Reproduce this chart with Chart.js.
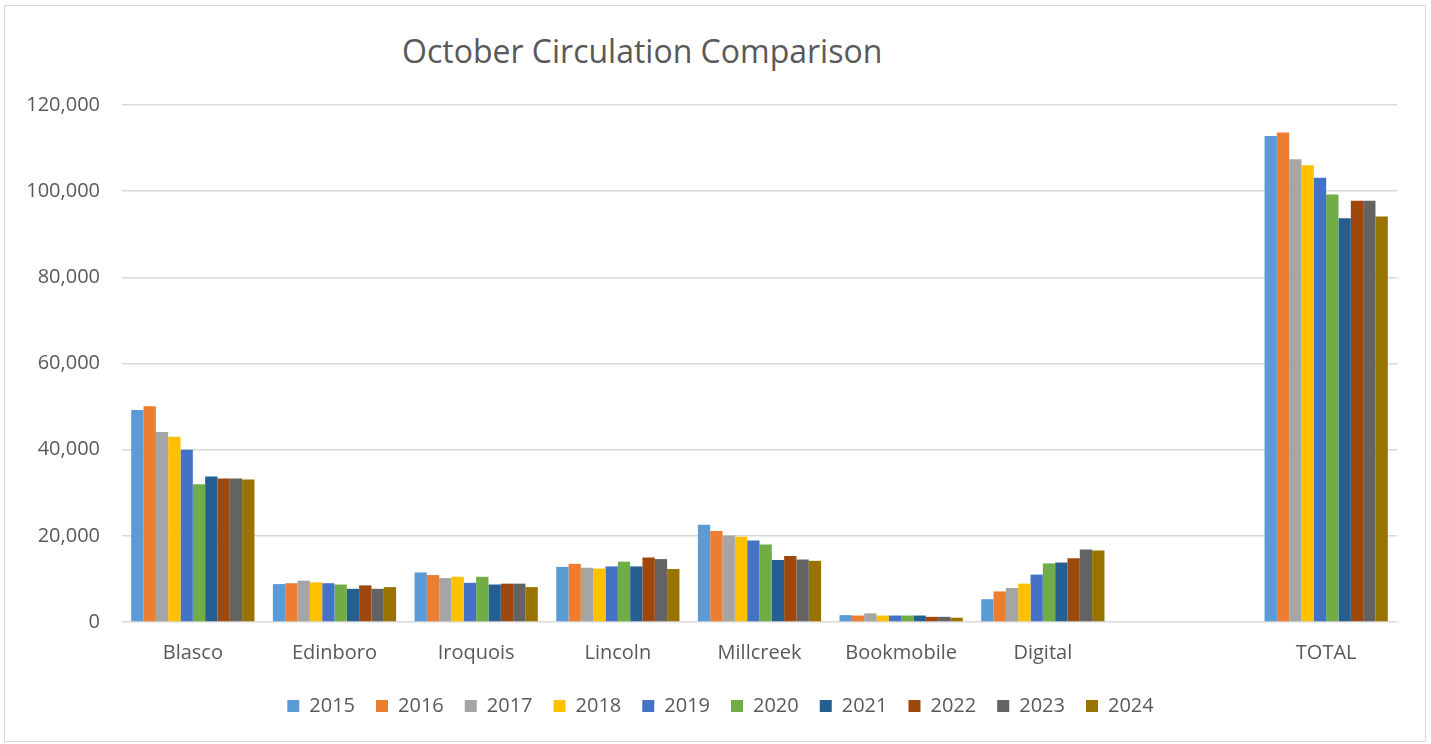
<!DOCTYPE html>
<html>
<head>
<meta charset="utf-8">
<title>October Circulation Comparison</title>
<script src="https://cdn.jsdelivr.net/npm/chart.js@4"></script>
<style>
    html, body { margin: 0; padding: 0; background: #fff; }
    #wrap { position: relative; width: 1431px; height: 744px; }
    #frame {
        position: absolute; left: 4px; top: 5px; width: 1420px; height: 735px;
        border: 1px solid #d9d9d9;
    }
    #chart-title {
        position: absolute; left: 402px; top: 35px; margin: 0;
        font-family: "Open Sans", sans-serif; font-size: 32px; line-height: 1;
        font-weight: 400; color: #595959; white-space: nowrap;
    }
    #chart { position: absolute; left: 0; top: 0; }
</style>
</head>
<body>
<div id="wrap">
    <div id="frame"></div>
    <h1 id="chart-title">October Circulation Comparison</h1>
    <canvas id="chart" width="1431" height="744"></canvas>
</div>
<script>
const branches = ['Blasco', 'Edinboro', 'Iroquois', 'Lincoln', 'Millcreek', 'Bookmobile', 'Digital', '', 'TOTAL'];
const years = ['2015', '2016', '2017', '2018', '2019', '2020', '2021', '2022', '2023', '2024'];
const yearColors = ['#5B9BD5', '#ED7D31', '#A5A5A5', '#FFC000', '#4472C4', '#70AD47', '#255E91', '#9E480E', '#636363', '#997300'];

// one array per year, same order as branches (empty slot before TOTAL)
const y2015 = [49200, 8800, 11500, 12800, 22600, 1600, 5300, null, 112800];
const y2016 = [50100, 9000, 10900, 13500, 21100, 1500, 7100, null, 113600];
const y2017 = [44100, 9600, 10200, 12600, 20100, 2000, 7900, null, 107400];
const y2018 = [43000, 9200, 10500, 12400, 19800, 1500, 8900, null, 106000];
const y2019 = [40000, 9000, 9100, 12900, 18900, 1500, 11000, null, 103100];
const y2020 = [32000, 8700, 10500, 14000, 18000, 1500, 13600, null, 99200];
const y2021 = [33800, 7700, 8700, 12900, 14400, 1500, 13800, null, 93700];
const y2022 = [33300, 8500, 8900, 15000, 15300, 1200, 14800, null, 97800];
const y2023 = [33300, 7700, 8900, 14600, 14500, 1200, 16800, null, 97800];
const y2024 = [33100, 8100, 8100, 12300, 14200, 1000, 16600, null, 94100];
const yearValues = [y2015, y2016, y2017, y2018, y2019, y2020, y2021, y2022, y2023, y2024];

const yTicksMax = 120000;
const yTicksStep = 20000;

const textColor = '#595959';
const gridColor = '#d9d9d9';
const fontFamily = '"Open Sans", sans-serif';

const datasets = years.map((yr, i) => ({
    label: yr,
    data: yearValues[i],
    backgroundColor: yearColors[i],
    borderWidth: 0,
    barPercentage: 1,
    categoryPercentage: 0.87
}));

// the legend sits centred on the whole frame, not on the plot area
const legendShift = {
    id: 'legendShift',
    afterLayout(chart) {
        const lg = chart.legend;
        if (!lg) return;
        lg.left += 22;
        lg.right += 22;
    }
};

new Chart(document.getElementById('chart').getContext('2d'), {
    type: 'bar',
    data: {
        labels: branches,
        datasets: datasets
    },
    plugins: [legendShift],
    options: {
        responsive: false,
        animation: false,
        layout: {
            padding: { top: 105, right: 34, bottom: 18, left: 0 }
        },
        plugins: {
            title: { display: false },
            tooltip: { enabled: false },
            legend: {
                position: 'bottom',
                labels: {
                    boxWidth: 12,
                    boxHeight: 12,
                    padding: 21,
                    color: textColor,
                    font: { family: fontFamily, size: 20 }
                }
            }
        },
        scales: {
            x: {
                grid: { display: false, drawTicks: false },
                border: { display: false },
                ticks: {
                    color: textColor,
                    padding: 19,
                    maxRotation: 0,
                    autoSkip: false,
                    font: { family: fontFamily, size: 20 }
                },
                afterFit: (scale) => { scale.height = 53; }
            },
            y: {
                min: 0,
                max: yTicksMax,
                grid: { color: gridColor, lineWidth: 1.5, drawTicks: false },
                border: { display: false },
                ticks: {
                    stepSize: yTicksStep,
                    color: textColor,
                    padding: 22,
                    font: { family: fontFamily, size: 20 },
                    callback: (v) => v.toLocaleString('en-US')
                },
                afterFit: (scale) => { scale.width = 122; }
            }
        }
    }
});
</script>
</body>
</html>
